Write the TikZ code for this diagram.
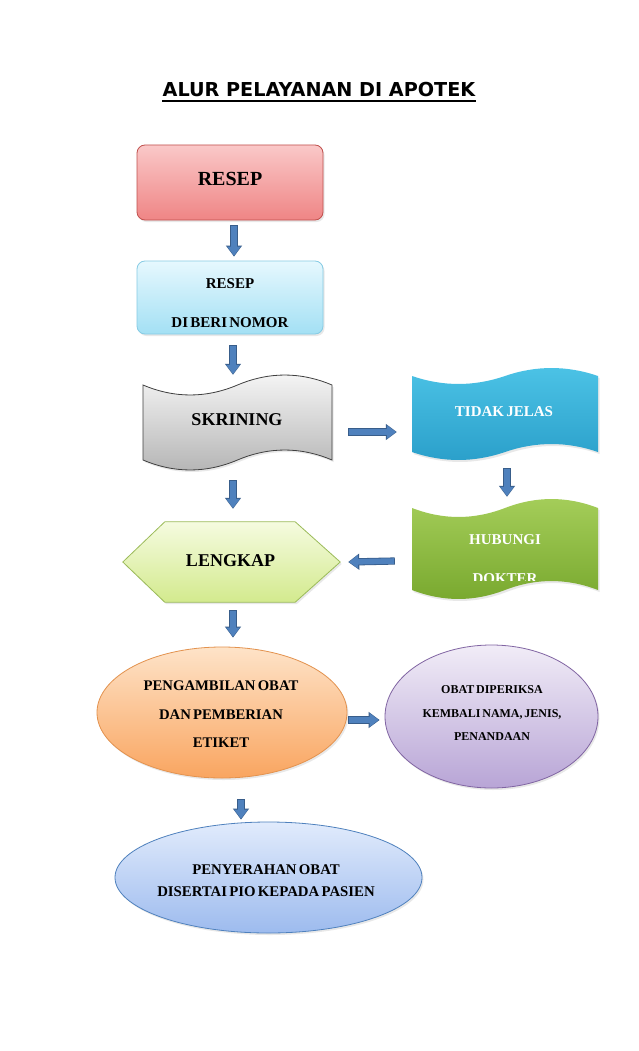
\documentclass[tikz,border=0pt]{standalone}
\usepackage{fontspec}
\setmainfont{Liberation Serif}[WordSpace=0.6]
\newfontfamily\titlefont{DejaVu Sans}
\usetikzlibrary{shapes.geometric,arrows.meta,shadows}

\definecolor{arrowfill}{HTML}{4F81BD}
\definecolor{arrowline}{HTML}{385D8A}
\definecolor{resepTop}{HTML}{FAC8C8}
\definecolor{resepBot}{HTML}{EF8585}
\definecolor{resepLine}{HTML}{C0504D}
\definecolor{beriTop}{HTML}{E6F8FE}
\definecolor{beriBot}{HTML}{A3E0F4}
\definecolor{beriLine}{HTML}{86CBE4}
\definecolor{grayTop}{HTML}{F6F6F6}
\definecolor{grayBot}{HTML}{B4B4B4}
\definecolor{grayLine}{HTML}{404040}
\definecolor{tjTop}{HTML}{4CC3E6}
\definecolor{tjBot}{HTML}{2A9FCA}
\definecolor{hubTop}{HTML}{A5CE5A}
\definecolor{hubBot}{HTML}{78A82E}
\definecolor{lkTop}{HTML}{F5FBDF}
\definecolor{lkBot}{HTML}{D3EA8E}
\definecolor{lkLine}{HTML}{9BBB59}
\definecolor{orTop}{HTML}{FEE3C8}
\definecolor{orBot}{HTML}{F9A560}
\definecolor{orLine}{HTML}{E3924E}
\definecolor{puTop}{HTML}{F1ECF7}
\definecolor{puBot}{HTML}{B8A5D6}
\definecolor{puLine}{HTML}{8064A2}
\definecolor{blTop}{HTML}{E1EBFC}
\definecolor{blBot}{HTML}{9DBBEE}
\definecolor{blLine}{HTML}{4F81BD}

% tape (punched tape) outline: #1 options, #2 x0, #3 x1, #4 top mid, #5 bottom mid, #6 amplitude
\newcommand\tapedraw[6]{%
  \path[#1] (#2,#4)
    .. controls ({#2+(#3-#2)/6},{#4+1.33*#6}) and ({#2+(#3-#2)/3},{#4+1.33*#6}) .. ({(#2+#3)/2},#4)
    .. controls ({#2+2*(#3-#2)/3},{#4-1.33*#6}) and ({#2+5*(#3-#2)/6},{#4-1.33*#6}) .. (#3,#4)
    -- (#3,#5)
    .. controls ({#2+5*(#3-#2)/6},{#5-1.33*#6}) and ({#2+2*(#3-#2)/3},{#5-1.33*#6}) .. ({(#2+#3)/2},#5)
    .. controls ({#2+(#3-#2)/3},{#5+1.33*#6}) and ({#2+(#3-#2)/6},{#5+1.33*#6}) .. (#2,#5)
    -- cycle;}

\begin{document}
\begin{tikzpicture}[x=1pt,y=-1pt,
  shadowed/.style={drop shadow={opacity=0.18,shadow xshift=1.5pt,shadow yshift=-2pt}},
  lbl/.style={font=\bfseries\fontsize{#1}{#1}\selectfont, inner sep=0pt},
  lbl/.default=14,
  mlbl/.style 2 args={font=\bfseries\fontsize{#1}{#2}\selectfont, align=center, inner sep=0pt},
  rbox/.style={rectangle, rounded corners=8pt, line width=0.8pt, inner sep=0pt,
    minimum width=186pt, shadowed},
  ell/.style={ellipse, line width=0.8pt, inner sep=0pt, shadowed},
  anchorbox/.style={rectangle, inner sep=0pt, draw=none},
  barrow/.style={draw=arrowfill, line width=5.6pt, shorten >=0.9pt, shorten <=0.9pt,
    -{Triangle[width=13pt,length=9pt]},
    preaction={draw=arrowline, line width=7.2pt, shorten >=0pt, shorten <=0pt,
      -{Triangle[width=15.5pt,length=11pt]}}}
]
\fill[white] (0,0) rectangle (638,1051);
\useasboundingbox (0,0) rectangle (638,1051);

% title
\node[font=\titlefont\bfseries\fontsize{19.2}{19.2}\selectfont, inner sep=0pt, anchor=base]
  (title) at (319,97) {ALUR PELAYANAN DI APOTEK};
\draw[line width=1.8pt] ([yshift=-4pt]title.base west) -- ([yshift=-4pt]title.base east);

% RESEP
\node[rbox, minimum height=75pt, top color=resepTop, bottom color=resepBot, draw=resepLine]
  (resep) at (230,182.5) {};
\node[lbl=20] (resepT) at (230,178.5) {RESEP};

% RESEP DI BERI NOMOR
\node[rbox, minimum height=73pt, top color=beriTop, bottom color=beriBot, draw=beriLine]
  (beri) at (230,297.5) {};
\node[mlbl={15}{39}] (beriT) at (230,303) {RESEP\\DI BERI NOMOR};

% SKRINING tape
\tapedraw{top color=grayTop, bottom color=grayBot, draw=grayLine, line width=0.8pt, shadowed}{143}{332}{385}{460}{10}
\node[anchorbox, minimum width=189pt, minimum height=95pt] (skr) at (237.5,422.5) {};
\node[lbl=18] (skrT) at (237,420) {SKRINING};

% TIDAK JELAS tape
\tapedraw{top color=tjTop, bottom color=tjBot, shadowed}{412}{598}{376}{452}{8}
\node[anchorbox, minimum width=186pt, minimum height=92pt] (tj) at (505,414) {};
\node[lbl=15, text=white] (tjT) at (504,412) {TIDAK JELAS};

% HUBUNGI DOKTER tape
\tapedraw{top color=hubTop, bottom color=hubBot, shadowed}{412}{598}{508}{590}{9}
\node[anchorbox, minimum width=186pt, minimum height=102pt] (hub) at (505,549) {};
\node[lbl=15, text=white] (hubT) at (505,540) {HUBUNGI};
\begin{scope}
  \clip (405,560) rectangle (605,580.5);
  \node[lbl=15, text=white] (dokT) at (505,579) {DOKTER};
\end{scope}

% LENGKAP hexagon
\node[anchorbox, minimum width=217pt, minimum height=80pt] (lengkap) at (231.5,562) {};
\path[top color=lkTop, bottom color=lkBot, draw=lkLine, line width=0.8pt, shadowed]
  (lengkap.west) -- ([xshift=42pt]lengkap.north west) -- ([xshift=-45pt]lengkap.north east)
  -- (lengkap.east) -- ([xshift=-45pt]lengkap.south east) -- ([xshift=42pt]lengkap.south west) -- cycle;
\node[lbl=18] (lengkapT) at (230.5,561) {LENGKAP};

% PENGAMBILAN OBAT ellipse
\node[ell, minimum width=250pt, minimum height=131pt, top color=orTop, bottom color=orBot, draw=orLine]
  (peng) at (222,712.5) {};
\node[mlbl={14.7}{28.5}] (pengT) at (221,714.5) {PENGAMBILAN OBAT\\DAN PEMBERIAN\\ETIKET};

% OBAT DIPERIKSA ellipse
\node[ell, minimum width=213pt, minimum height=143pt, top color=puTop, bottom color=puBot, draw=puLine]
  (obat) at (491.5,716.5) {};
\node[mlbl={12}{23.5}] (obatT) at (492,713.5) {OBAT DIPERIKSA\\KEMBALI NAMA, JENIS,\\PENANDAAN};

% PENYERAHAN OBAT ellipse
\node[ell, minimum width=307pt, minimum height=111pt, top color=blTop, bottom color=blBot, draw=blLine]
  (peny) at (268.5,877.5) {};
\node[mlbl={14.8}{22}] (penyT) at (266,881) {PENYERAHAN OBAT\\DISERTAI PIO KEPADA PASIEN};

% block arrows
\draw[barrow] ([xshift=4pt,yshift=-5pt]resep.south) -- ([xshift=4pt,yshift=4pt]beri.north);
\draw[barrow] ([xshift=3pt,yshift=-11pt]beri.south) -- ([xshift=-4.5pt,yshift=0pt]skr.north);
\draw[barrow] ([xshift=-4.5pt,yshift=-10pt]skr.south) -- ([xshift=1.5pt,yshift=13pt]lengkap.north);
\draw[barrow] ([xshift=1.5pt,yshift=-8pt]lengkap.south) -- ([xshift=11pt,yshift=9pt]peng.north);
\draw[barrow] ([xshift=16pt,yshift=-9.5pt]skr.east) -- ([xshift=-15pt,yshift=-18pt]tj.west);
\draw[barrow] ([xshift=2pt,yshift=-8pt]tj.south) -- ([xshift=2pt,yshift=1pt]hub.north);
\draw[barrow] ([xshift=-17pt,yshift=-12pt]hub.west) -- ([xshift=8pt,yshift=0pt]lengkap.east);
\draw[barrow] ([xshift=1pt,yshift=-7.5pt]peng.east) -- ([xshift=-5pt,yshift=-3.5pt]obat.west);
\draw[barrow] ([xshift=19pt,yshift=-21pt]peng.south) -- ([xshift=-27.5pt,yshift=2pt]peny.north);
\end{tikzpicture}
\end{document}
